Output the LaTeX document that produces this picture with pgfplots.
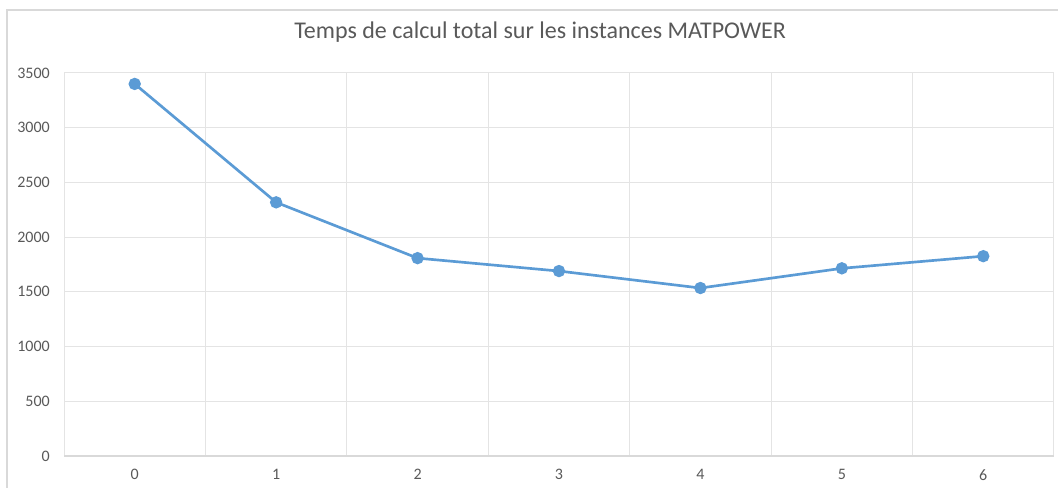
\documentclass[border=0pt]{standalone}
\usepackage{fontspec}
\setmainfont{Carlito}
\usepackage{pgfplots}
\pgfplotsset{compat=1.18}
\definecolor{xlblue}{HTML}{5B9BD5}
\definecolor{gridc}{HTML}{D9D9D9}
\definecolor{gridl}{HTML}{E4E4E4}
\definecolor{txt}{HTML}{595959}
\begin{document}
\begin{tikzpicture}
\useasboundingbox (0,0) rectangle (793.5pt,366pt);
\draw[gridc, line width=0.9pt] (5.25pt,-2pt) -- (5.25pt,358.5pt) -- (796pt,358.5pt);
\begin{axis}[
  at={(48pt,24pt)}, anchor=south west,
  scale only axis, width=742.5pt, height=287.25pt,
  xmin=-0.5, xmax=6.5, ymin=0, ymax=3500,
  xtick={0,1,2,3,4,5,6},
  minor xtick={-0.5,0.5,1.5,2.5,3.5,4.5,5.5,6.5},
  ytick={0,500,1000,1500,2000,2500,3000,3500},
  xmajorgrids=false, xminorgrids=true, ymajorgrids=true,
  grid style={gridl, line width=0.75pt},
  minor grid style={gridl, line width=0.75pt},
  axis line style={draw=none},
  major tick length=0pt, minor tick length=0pt,
  tick style={draw=none},
  /pgf/number format/assume math mode=true,
  /pgf/number format/1000 sep={},
  ticklabel style={font=\fontsize{12}{14}\selectfont, text=txt},
  yticklabel style={inner sep=0pt, xshift=-10.5pt},
  xticklabel style={inner sep=0pt, yshift=-10pt},
  title={Temps de calcul total sur les instances MATPOWER},
  title style={at={(0.481,1.086)}, anchor=center, font=\fontsize{18}{21}\selectfont, text=txt},
  clip=false,
]
\draw[gridc, line width=0.9pt] (axis cs:-0.5,0) -- (axis cs:6.5,0);
\addplot[color=xlblue, line width=2pt, mark=*, mark size=3.6pt, mark options={fill=xlblue, draw=xlblue}]
  coordinates {(0,3400) (1,2318) (2,1808) (3,1690) (4,1535) (5,1715) (6,1826)};
\end{axis}
\end{tikzpicture}
\end{document}
